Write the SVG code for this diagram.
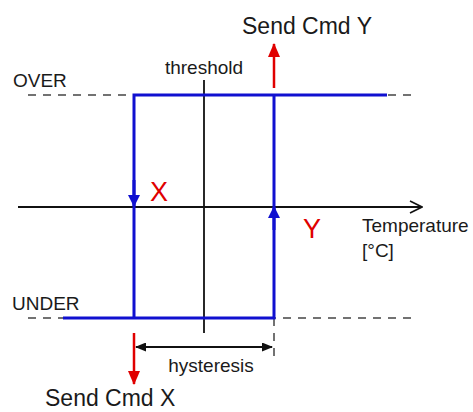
<svg xmlns="http://www.w3.org/2000/svg" width="473" height="412" viewBox="0 0 473 412">
<style>
text{font-family:"Liberation Sans",Arial,sans-serif;fill:#1a1a1a}
.lbl{font-size:19px}
.big{font-size:23px}
.red{fill:#e00000;font-size:27px}
.dash{stroke:#444;stroke-width:1.5;stroke-dasharray:8,7;fill:none}
.blue{stroke:#1010d0;stroke-width:3;fill:none}
.blk{stroke:#111;stroke-width:1.8;fill:none}
.redl{stroke:#e00000;stroke-width:2.5;fill:none}
</style>
<defs>
<marker id="bh" viewBox="0 0 12 12" refX="11" refY="6" markerWidth="12" markerHeight="12" markerUnits="userSpaceOnUse" orient="auto"><path d="M0,0 L12,6 L0,12 Z" fill="#1010d0"/></marker>
<marker id="rh" viewBox="0 0 14 12" refX="13" refY="6" markerWidth="14" markerHeight="12" markerUnits="userSpaceOnUse" orient="auto"><path d="M0,0 L14,6 L0,12 Z" fill="#e00000"/></marker>
<marker id="kh" viewBox="0 0 11 9" refX="10" refY="4.5" markerWidth="11" markerHeight="9" markerUnits="userSpaceOnUse" orient="auto-start-reverse"><path d="M0,0 L11,4.5 L0,9 Z" fill="#111"/></marker>
<marker id="oh" viewBox="0 0 14 14" refX="13" refY="7" markerWidth="14" markerHeight="14" markerUnits="userSpaceOnUse" orient="auto"><path d="M1,1 L13,7 L1,13" fill="none" stroke="#111" stroke-width="1.6"/></marker>
</defs>
<g id="connectors">
<line class="dash" x1="28" y1="95" x2="415" y2="95"/>
<line class="dash" x1="28" y1="318" x2="415" y2="318"/>
<line class="dash" x1="274" y1="318" x2="274" y2="361"/>
<line class="blk" x1="204" y1="80" x2="204" y2="333"/>
<line class="blk" x1="18" y1="207" x2="422" y2="207" marker-end="url(#oh)"/>
<polyline class="blue" points="387,95 134,95 134,318"/>
<polyline class="blue" points="63,318 274,318 274,95"/>
<line class="blue" x1="134" y1="180" x2="134" y2="206" marker-end="url(#bh)"/>
<line class="blue" x1="274" y1="230" x2="274" y2="207" marker-end="url(#bh)"/>
<line class="blk" x1="136" y1="347" x2="272" y2="347" marker-start="url(#kh)" marker-end="url(#kh)"/>
<line class="redl" x1="274" y1="88" x2="274" y2="44" marker-end="url(#rh)"/>
<line class="redl" x1="134" y1="333" x2="134" y2="384" marker-end="url(#rh)"/>
</g>
<g id="label-over"><text class="lbl" x="13" y="87">OVER</text></g>
<g id="label-under"><text class="lbl" x="12" y="310">UNDER</text></g>
<g id="label-threshold"><text class="lbl" x="204" y="74" text-anchor="middle">threshold</text></g>
<g id="label-cmdy"><text class="big" x="242" y="34">Send Cmd Y</text></g>
<g id="label-cmdx"><text class="big" x="45" y="406">Send Cmd X</text></g>
<g id="label-x"><text class="red" x="150" y="201">X</text></g>
<g id="label-y"><text class="red" x="303" y="238">Y</text></g>
<g id="label-temp"><text class="lbl" x="362" y="232">Temperature</text><text class="lbl" x="362" y="257">[°C]</text></g>
<g id="label-hyst"><text class="lbl" x="211" y="372" text-anchor="middle">hysteresis</text></g>
</svg>
